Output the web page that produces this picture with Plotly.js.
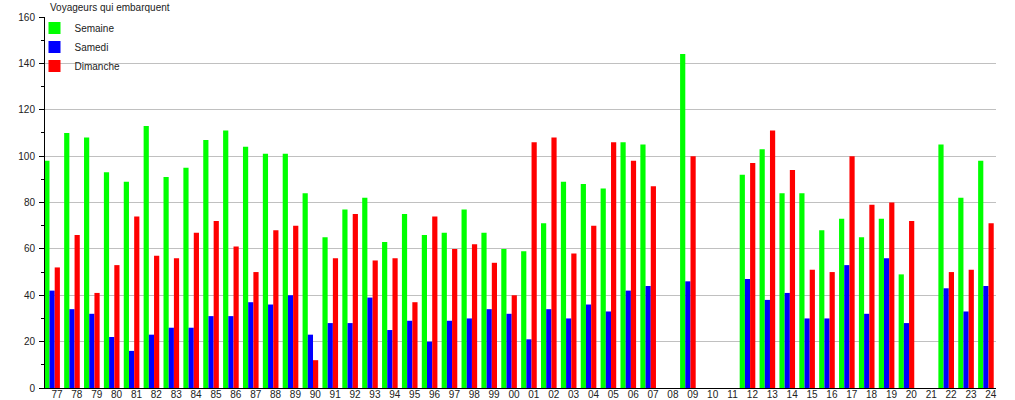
<!DOCTYPE html>
<html>
<head>
<meta charset="utf-8">
<script src="https://cdn.plot.ly/plotly-3.0.1.min.js"></script>
<style>html,body{margin:0;padding:0;background:#fff;}#chart{width:1015px;height:400px;}</style>
</head>
<body>
<div id="chart"></div>
<script>
const categories = ['77','78','79','80','81','82','83','84','85','86','87','88','89','90','91','92','93','94','95','96','97','98','99',
  '00','01','02','03','04','05','06','07','08','09','10','11','12','13','14','15','16','17','18','19','20','21','22','23','24'];
const semaine = [98,110,108,93,89,113,91,95,107,111,104,101,101,84,65,77,82,63,75,66,67,77,67,
  60,59,71,89,88,86,106,105,null,144,null,null,92,103,84,84,68,73,65,73,49,null,105,82,98];
const samedi = [42,34,32,22,16,23,26,26,31,31,37,36,40,23,28,28,39,25,29,20,29,30,34,
  32,21,34,30,36,33,42,44,null,46,null,null,47,38,41,30,30,53,32,56,28,null,43,33,44];
const dimanche = [52,66,41,53,74,57,56,67,72,61,50,68,70,12,56,75,55,56,37,74,60,62,54,
  40,106,108,58,70,106,98,87,null,100,null,null,97,111,94,51,50,100,79,80,72,null,50,51,71];
const seriesNames = ['Semaine','Samedi','Dimanche'];
const titleText = 'Voyageurs qui embarquent';

const idx = categories.map((c,i)=>i);
const colors = ['#00ff00','#0000ff','#ff0000'];
const offsets = [-0.64,-0.378,-0.116];
const w = 0.262;
const data = [semaine, samedi, dimanche].map((vals,k)=>({
  type:'bar', x: idx, y: vals, name: seriesNames[k],
  marker:{color: colors[k], line:{width:0}},
  offset: offsets[k], width: w, hoverinfo:'skip'
}));

const font = {family:'"Liberation Sans", Arial, sans-serif', size:10, color:'#222'};
const layout = {
  width:1015, height:400,
  margin:{l:45, r:19, t:17, b:12, pad:0},
  paper_bgcolor:'#fff', plot_bgcolor:'#fff',
  font: font,
  barmode:'overlay',
  showlegend:true,
  title:{text:titleText, font:font, x:50/1015, xref:'container', xanchor:'left', y:1-7/400, yref:'container', yanchor:'middle'},
  legend:{x:-10.5/951, xanchor:'left', y:1+3.5/371, yanchor:'top', bgcolor:'rgba(0,0,0,0)', borderwidth:0, font:font, traceorder:'normal'},
  xaxis:{range:[-0.604, 47.26], tickmode:'array', tickvals: idx, ticktext: categories,
    showgrid:false, zeroline:false, showline:true, linecolor:'#000', linewidth:1,
    ticks:'', automargin:false, tickfont:font, fixedrange:true, ticklabelstandoff:-3},
  yaxis:{range:[0,160], dtick:20, tick0:0, showgrid:true, gridcolor:'#c0c0c0', gridwidth:1,
    zeroline:false, showline:true, linecolor:'#000', linewidth:1,
    ticks:'outside', ticklen:5, tickcolor:'#000', tickwidth:1,
    minor:{dtick:10, ticks:'outside', ticklen:3, tickcolor:'#000', showgrid:false},
    automargin:false, tickfont:font, fixedrange:true, ticklabelstandoff:2}
};
Plotly.newPlot('chart', data, layout, {staticPlot:true, displayModeBar:false});
</script>
</body>
</html>
